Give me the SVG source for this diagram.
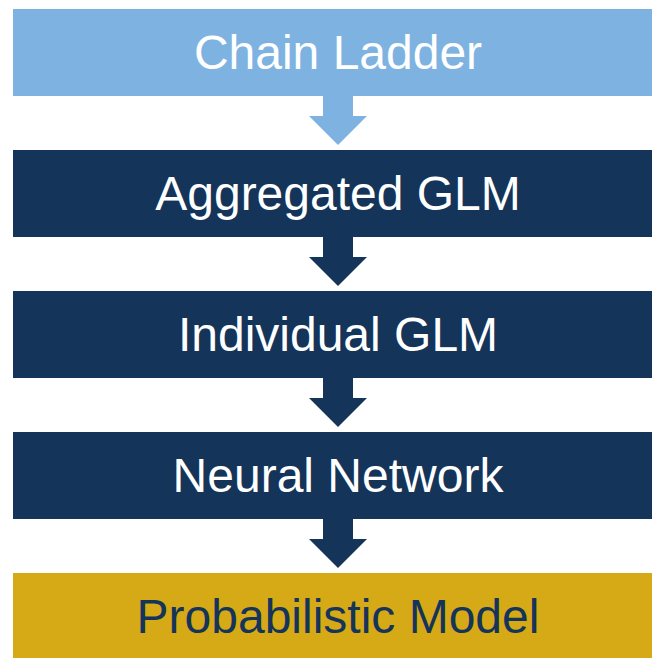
<svg xmlns="http://www.w3.org/2000/svg" width="652" height="658" viewBox="0 0 652 658">
  <style>
    .lbl { font-family: "Liberation Sans", Arial, sans-serif; font-size: 48px; text-anchor: middle; }
    .light { fill: #7EB3E1; }
    .navy { fill: #14345A; }
    .gold { fill: #D6A916; }
  </style>
  <defs>
    <path id="arrow" d="M323,-1 L323,20 L309,20 L338,49 L367,20 L353,20 L353,-1 Z"/>
  </defs>
  <rect width="652" height="658" fill="#FFFFFF"/>
  <g id="connectors">
    <use href="#arrow" x="0" y="96" class="light"/>
    <use href="#arrow" x="0" y="237" class="navy"/>
    <use href="#arrow" x="0" y="378" class="navy"/>
    <use href="#arrow" x="0" y="519" class="navy"/>
  </g>
  <g id="chain-ladder">
    <rect x="13" y="9" width="639" height="87" class="light"/>
    <text x="338" y="69" class="lbl" fill="#FFFFFF">Chain Ladder</text>
  </g>
  <g id="aggregated-glm">
    <rect x="13" y="150" width="639" height="87" class="navy"/>
    <text x="338" y="210" class="lbl" fill="#FFFFFF">Aggregated GLM</text>
  </g>
  <g id="individual-glm">
    <rect x="13" y="291" width="639" height="87" class="navy"/>
    <text x="338" y="351" class="lbl" fill="#FFFFFF">Individual GLM</text>
  </g>
  <g id="neural-network">
    <rect x="13" y="432" width="639" height="87" class="navy"/>
    <text x="338" y="492" class="lbl" fill="#FFFFFF">Neural Network</text>
  </g>
  <g id="probabilistic-model">
    <rect x="13" y="573" width="639" height="87" class="gold"/>
    <text x="338" y="633" class="lbl" fill="#14345A">Probabilistic Model</text>
  </g>
</svg>
